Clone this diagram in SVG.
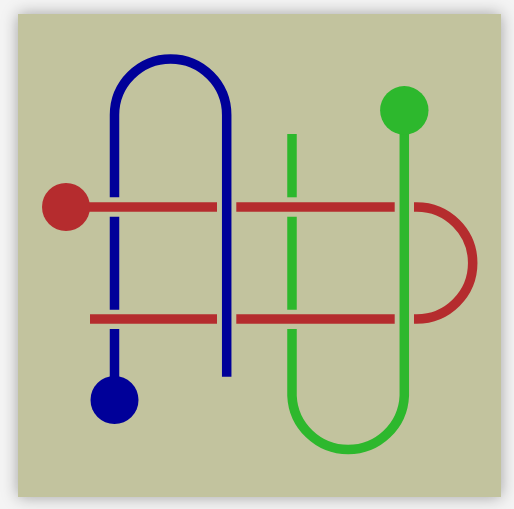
<svg xmlns="http://www.w3.org/2000/svg" width="514" height="509" viewBox="0 0 514 509">
  <style>
    .red { stroke: #b52c2e; }
    .blue { stroke: #000099; }
    .green { stroke: #2db82d; }
    .ln { fill: none; stroke-width: 9.5; stroke-linecap: butt; }
  </style>
  <defs>
    <filter id="sh" x="-20%" y="-20%" width="140%" height="140%">
      <feDropShadow dx="0" dy="0" stdDeviation="8" flood-color="#000" flood-opacity="0.35"/>
    </filter>
  </defs>
  <rect x="0" y="0" width="514" height="509" fill="#f4f4f4"/>
  <rect id="board" x="18" y="14" width="483" height="483" fill="#c2c39e" filter="url(#sh)"/>
  <g id="connectors" class="ln">
    <!-- blue -->
    <path class="ln blue" d="M114.5,378 V329"/>
    <path class="ln blue" d="M114.5,309.7 V216.7"/>
    <path class="ln blue" d="M114.5,197.3 V115 A56,56 0 0 1 226.7,115 V376.7"/>
    <!-- red -->
    <path class="ln red" d="M80,207 H217"/>
    <path class="ln red" d="M236.3,207 H394.7"/>
    <path class="ln red" d="M414,207 H416.7 A56,56 0 0 1 416.7,319 H414"/>
    <path class="ln red" d="M90,319 H217"/>
    <path class="ln red" d="M236.3,319 H394.7"/>
    <!-- green -->
    <path class="ln green" d="M292,134 V197.3"/>
    <path class="ln green" d="M292,216.7 V309.7"/>
    <path class="ln green" d="M292,329 V395.7 A56.2,56.2 0 0 0 404.3,395.7 V125"/>
  </g>
  <g id="red-end"><circle cx="66" cy="207" r="24" fill="#b52c2e"/></g>
  <g id="blue-end"><circle cx="114.5" cy="400" r="24" fill="#000099"/></g>
  <g id="green-end"><circle cx="404.3" cy="110.3" r="24.2" fill="#2db82d"/></g>
</svg>
